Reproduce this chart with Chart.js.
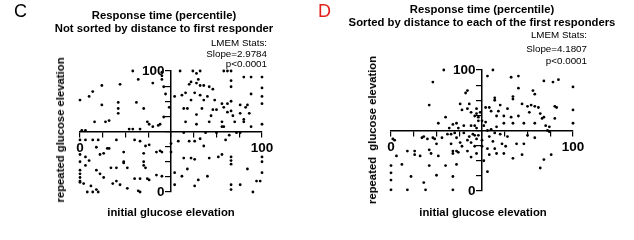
<!DOCTYPE html>
<html>
<head>
<meta charset="utf-8">
<script src="https://cdn.jsdelivr.net/npm/chart.js@4.4.1/dist/chart.umd.min.js"></script>
<style>
  body { margin: 0; background: #fff; }
  #wrap { position: relative; width: 634px; height: 240px; overflow: hidden; font-family: "Liberation Sans", Arial, sans-serif; color: #000; }
  canvas { position: absolute; top: 0; }
  .t { position: absolute; white-space: pre; transform: translate(-50%, -50%); }
  .b { font-weight: bold; font-size: 11.3px; }
  .s { position: absolute; white-space: pre; font-size: 9.8px; text-align: right; transform: translateY(-50%); }
  .letter { position: absolute; font-size: 18px; top: 1px; }
  .rot { transform: translate(-50%, -50%) rotate(-90deg); }
</style>
</head>
<body>
<div id="wrap">
  <canvas id="chartC" width="317" height="240" style="left:0"></canvas>
  <canvas id="chartD" width="317" height="240" style="left:317px"></canvas>

  <div class="letter" style="left:14px">C</div>
  <div class="t b" style="left:164px;top:15px">Response time (percentile)</div>
  <div class="t b" style="left:164px;top:28px">Not sorted by distance to first responder</div>
  <div class="s" style="right:367px;top:42px">LMEM Stats:</div>
  <div class="s" style="right:367px;top:53px">Slope=2.9784</div>
  <div class="s" style="right:367px;top:63px">p&lt;0.0001</div>
  <div class="t b rot" style="left:60px;top:130px">repeated glucose elevation</div>
  <div class="t b" style="left:171px;top:212px">initial glucose elevation</div>

  <div class="letter" style="left:318px;color:#e3211c">D</div>
  <div class="t b" style="left:482px;top:9px">Response time (percentile)</div>
  <div class="t b" style="left:482px;top:22px">Sorted by distance to each of the first responders</div>
  <div class="s" style="right:47px;top:34px">LMEM Stats:</div>
  <div class="s" style="right:47px;top:48px">Slope=4.1807</div>
  <div class="s" style="right:47px;top:60px">p&lt;0.0001</div>
  <div class="t b rot" style="left:372px;top:130px">repeated  glucose elevation</div>
  <div class="t b" style="left:483px;top:212px">initial glucose elevation</div>
</div>
<script>
// percentile pairs [initial, repeated]
var cPoints = [
  [55,100],[62,100],[64,98],[66,100],[79,100],[81,100],[83,100],[94,95],[100,95],[60,89],[61,91],[64,90],
  [65,93],[66,88],[68,88],[71,87],[73,85],[83,92],[83,87],[90,95],[100,86],[52,79],[56,80],[58,82],
  [61,76],[63,82],[66,80],[68,76],[70,79],[74,76],[78,73],[81,73],[83,75],[88,72],[92,72],[94,81],
  [100,79],[100,73],[57,69],[59,69],[64,64],[67,69],[72,63],[73,68],[75,68],[79,70],[81,66],[83,67],
  [84,63],[88,65],[91,70],[93,65],[90,60],[58,58],[64,56],[71,58],[78,58],[78,54],[79,54],[85,58],
  [90,58],[94,54],[100,56],
  [0,76],[5,79],[7,83],[12,88],[22,89],[29,100],[32,93],[40,90],[45,99],[45,96],[45,93],[46,87],
  [47,81],[12,72],[21,74],[21,69],[21,65],[31,74],[35,69],[37,58],[38,56],[44,56],[46,62],[49,70],
  [8,58],[14,58],[16,59],[27,52],[29,52],[33,52],[40,54],[43,55],[1,51],[3,51],
  [0,43],[3,43],[7,43],[10,43],[20,43],[30,43],[33,42],[36,38],[38,39],[42,33],[44,34],[45,33],
  [35,32],[9,37],[15,36],[16,36],[24,33],[0,31],[3,29],[5,26],[11,31],[13,32],[0,25],[3,22],
  [0,18],[9,18],[11,15],[17,20],[20,20],[24,25],[24,24],[26,20],[35,25],[35,22],[36,20],[0,15],
  [0,12],[0,9],[0,8],[2,7],[4,0],[7,0],[9,2],[10,0],[18,7],[20,9],[22,6],[26,3],
  [32,1],[33,0],[33,11],[37,11],[38,10],[42,14],[45,13],[30,11],[6,5],[13,12],
  [60,42],[63,42],[66,44],[68,38],[80,43],[82,47],[86,49],[88,49],[50,40],[50,33],[57,28],[61,28],
  [63,27],[71,28],[76,29],[78,31],[83,29],[83,26],[83,23],[52,16],[56,13],[59,19],[65,10],[70,13],
  [52,6],[63,5],[83,6],[83,2],[88,6],[92,19],[95,0],[97,9],[99,9],[100,16],[100,25],[100,29],
  [54,42],[69,49],[75,49],[57,49]
];
var dPoints = [
  [29,100],[56,100],[53,95],[66,94],[70,95],[23,90],[42,83],[41,81],[70,85],[67,78],[67,76],[84,91],
  [89,90],[92,92],[100,86],[78,83],[79,80],[21,71],[38,72],[39,67],[43,72],[42,68],[47,68],[47,64],
  [48,61],[49,65],[52,69],[54,69],[55,66],[57,77],[57,75],[59,66],[58,62],[62,56],[30,61],[36,56],
  [37,52],[32,52],[34,55],[40,54],[44,54],[46,54],[47,52],[51,54],[52,57],[48,58],[64,68],[66,61],
  [67,56],[72,72],[75,70],[77,71],[79,70],[81,69],[82,64],[83,60],[84,61],[90,60],[90,70],[91,69],
  [100,67],[100,56],[73,56],[79,56],[85,54],[87,53],[62,62],[58,53],[55,51],[53,50],[46,62],[44,65],
  [70,62],[76,65],[26,56],[50,58],[60,71],
  [1,43],[2,42],[3,29],[0,21],[0,15],[0,9],[0,1],[6,22],[9,33],[9,1],[11,12],[13,33],
  [13,30],[16,29],[17,44],[18,45],[20,43],[21,34],[22,31],[21,21],[18,7],[19,1],[23,44],[24,43],
  [25,39],[26,29],[25,13],[30,21],[31,47],[33,47],[35,48],[33,39],[34,33],[34,31],[34,12],[34,1],
  [36,22],[36,33],[37,32],[38,40],[39,37],[42,42],[42,33],[44,28],[43,45],[44,40],[45,47],[46,46],
  [47,43],[48,46],[46,37],[47,31],[50,42],[50,37],[53,16],[51,25],[54,45],[56,41],[57,35],[58,31],
  [53,35],[54,30],[60,47],[61,39],[62,31],[63,37],[67,27],[69,39],[73,39],[72,30],[75,46],[79,44],
  [82,19],[84,26],[88,30],[86,50],[87,49],[64,45],[57,48],[40,48],[28,44],[36,44]
];
var axisMin = 0, axisMax = 100, axisCross = 50, tickStep = 12.5;
var shownTicks = [0, 100];

function scatter(id, points, pad) {
  var tickFont = { family: "'Liberation Sans', Arial, sans-serif", size: 13.5, weight: 'bold' };
  var xLabel = function (v) { return shownTicks.indexOf(v) >= 0 ? String(v) : ''; };
  // y labels sit right-aligned on the axis line, trailing spaces push them clear of the ticks
  var yLabel = function (v) { return shownTicks.indexOf(v) >= 0 ? String(v) + ' \u2009' : ''; };
  var grid = { display: true, drawOnChartArea: false, drawTicks: true, tickLength: 5, color: '#000', lineWidth: 1.2 };
  return new Chart(document.getElementById(id), {
    type: 'scatter',
    data: {
      datasets: [{
        data: points.map(function (p) { return { x: p[0], y: p[1] }; }),
        backgroundColor: '#000',
        borderWidth: 0,
        pointRadius: 1.4,
        clip: false
      }]
    },
    options: {
      responsive: false,
      animation: false,
      layout: { padding: pad },
      plugins: { legend: { display: false }, tooltip: { enabled: false } },
      scales: {
        x: {
          type: 'linear', min: axisMin, max: axisMax, position: { y: axisCross },
          grid: grid, border: { color: '#000', width: 1.5 },
          ticks: { stepSize: tickStep, autoSkip: false, maxRotation: 0, padding: 4, color: '#000', font: tickFont, callback: xLabel }
        },
        y: {
          type: 'linear', min: axisMin, max: axisMax, position: { x: axisCross },
          grid: grid, border: { color: '#000', width: 1.5 },
          ticks: { stepSize: tickStep, autoSkip: false, padding: 3, color: '#000', font: tickFont, callback: yLabel }
        }
      }
    }
  });
}

scatter('chartC', cPoints, { left: 80, right: 55, top: 71, bottom: 48 });
scatter('chartD', dPoints, { left: 74, right: 61, top: 70, bottom: 49 });
</script>
</body>
</html>
